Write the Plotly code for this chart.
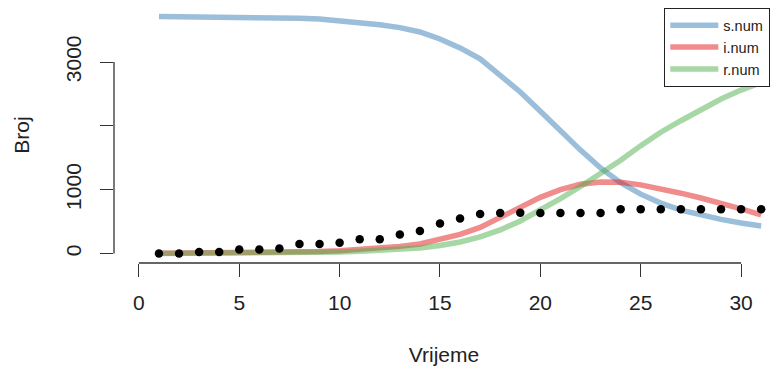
import plotly.graph_objects as go

# ---- data ----
time = list(range(1, 32))
s_num = [3713, 3712, 3710, 3708, 3705, 3700, 3694, 3686, 3675, 3650, 3618, 3582, 3538,
         3470, 3360, 3220, 3050, 2800, 2530, 2230, 1920, 1620, 1340, 1110, 930, 790,
         680, 600, 535, 478, 432]
i_num = [3, 4, 5, 7, 9, 12, 17, 23, 32, 44, 60, 82, 112, 150, 215, 300, 410, 560,
         720, 880, 1000, 1085, 1120, 1115, 1075, 1015, 945, 870, 790, 700, 605]
r_num = [0, 1, 2, 3, 5, 7, 9, 13, 18, 25, 34, 46, 63, 88, 125, 180, 260, 370, 510,
         680, 860, 1050, 1250, 1460, 1690, 1900, 2080, 2250, 2420, 2560, 2680]
observed = [0, 0, 25, 25, 63, 63, 78, 150, 150, 170, 224, 224, 297, 354, 469, 548,
            620, 635, 640, 635, 635, 635, 635, 693, 693, 693, 693, 693, 693, 693, 693]

series_names = ["s.num", "i.num", "r.num"]
series_values = [s_num, i_num, r_num]
series_colors = ["rgba(55,126,184,0.5)", "rgba(228,26,28,0.5)", "rgba(77,175,74,0.5)"]

x_ticks = [0, 5, 10, 15, 20, 25, 30]
y_ticks = [0, 1000, 2000, 3000]
y_tick_labels = ["0", "1000", "", "3000"]

x_title = "Vrijeme"
y_title = "Broj"

# ---- figure ----
W, H = 774, 370
FONT = "Liberation Sans, Arial, sans-serif"

fig = go.Figure()
for name, vals, col in zip(series_names, series_values, series_colors):
    fig.add_trace(go.Scatter(x=time, y=vals, mode="lines", name=name,
                             line=dict(color=col, width=5.5)))
fig.add_trace(go.Scatter(x=time, y=observed, mode="markers", showlegend=False,
                         marker=dict(color="black", size=8.5)))

# R-style extended ranges (4%); right side cropped like the reference
xr_pad = 0.04 * (max(time) - 0)
yr_pad = 0.04 * (max(s_num) - 0)
x_range = [0 - xr_pad, 31.64]
y_range = [0 - yr_pad, max(s_num) + yr_pad]

axis_col = "#333333"
fig.update_xaxes(range=x_range, tickvals=x_ticks, ticks="outside", ticklen=13,
                 tickcolor=axis_col, tickwidth=1.3, showline=False, showgrid=False,
                 zeroline=False, tickfont=dict(size=21, color="#222"),
                 ticklabelstandoff=8,
                 title=dict(text=x_title, font=dict(size=21, color="#222"), standoff=34))
fig.update_yaxes(range=y_range, tickvals=y_ticks, ticktext=y_tick_labels,
                 ticks="outside", ticklen=13, tickcolor=axis_col, tickwidth=1.3,
                 showline=False, showgrid=False, zeroline=False, tickangle=-90,
                 tickfont=dict(size=21, color="#222"), ticklabelstandoff=11,
                 title=dict(text=y_title, font=dict(size=21, color="#222"), standoff=26))

# axis lines spanning only the tick range (R style)
fig.add_shape(type="line", xref="x", yref="paper", x0=x_ticks[0], x1=x_ticks[-1],
              y0=0, y1=0, line=dict(color=axis_col, width=1.3))
fig.add_shape(type="line", xref="paper", yref="y", x0=0, x1=0,
              y0=y_ticks[0], y1=y_ticks[-1], line=dict(color=axis_col, width=1.3))

ml, mt, mb = 114, 7, 107
fig.update_layout(
    width=W, height=H,
    margin=dict(l=ml, r=0, t=mt, b=mb, autoexpand=False),
    paper_bgcolor="white", plot_bgcolor="white",
    font=dict(family=FONT, color="#222"),
    legend=dict(x=(664 - ml) / (W - ml), y=1 - (8 - mt) / (H - mt - mb),
                xanchor="left", yanchor="top", bordercolor="#222", borderwidth=1.3,
                bgcolor="white", font=dict(size=14.5, color="#222"),
                itemwidth=48, tracegroupgap=0),
    showlegend=True,
)

fig.write_html("out.html", config={"displayModeBar": False},
               post_script="document.body.style.margin='0';document.body.style.overflow='hidden';")
